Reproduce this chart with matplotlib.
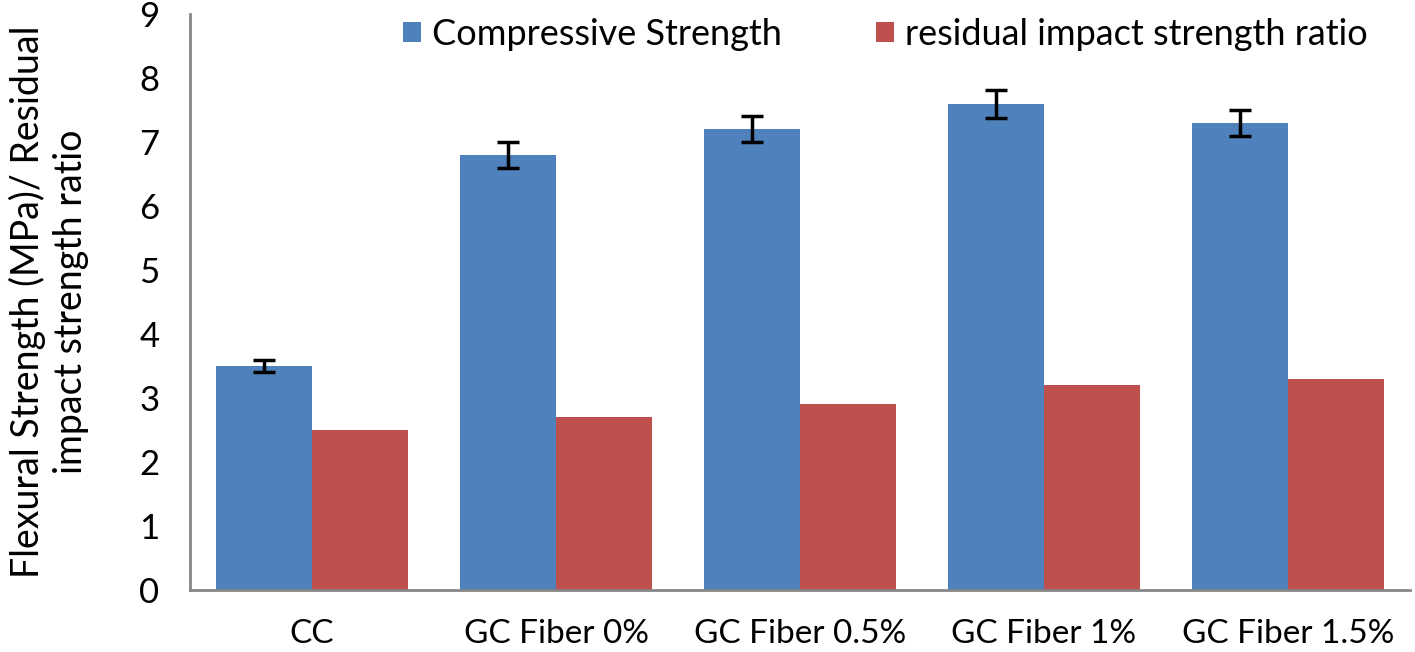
import matplotlib
matplotlib.use('agg')
import matplotlib.pyplot as plt
import numpy as np

# data
categories = ['CC', 'GC Fiber 0%', 'GC Fiber 0.5%', 'GC Fiber 1%', 'GC Fiber 1.5%']
compressive = [3.5, 6.8, 7.2, 7.6, 7.3]
compressive_err = [0.1, 0.2, 0.2, 0.22, 0.2]
residual = [2.5, 2.7, 2.9, 3.2, 3.3]
yticks = [0, 1, 2, 3, 4, 5, 6, 7, 8, 9]

plt.rcParams['font.family'] = ['Lato', 'DejaVu Sans']

fig = plt.figure(figsize=(14.15, 6.52), dpi=100)
ax = fig.add_axes([0.1343, 0.0951, 0.8622, 0.8834])

x = np.arange(len(categories))
w = 0.393
ax.bar(x - w / 2, compressive, w, color='#4f81bd', label='Compressive Strength',
       yerr=compressive_err, error_kw=dict(ecolor='black', elinewidth=2.5, capsize=8, capthick=2.5))
ax.bar(x + w / 2, residual, w, color='#c0504d', label='residual impact strength ratio')

ax.set_xlim(-0.5, len(categories) - 0.5)
ax.set_ylim(0, 9)
ax.set_yticks(yticks)
ax.set_xticks(x)
ax.set_xticklabels(categories)
ax.tick_params(axis='both', length=0)
ax.tick_params(axis='x', pad=21, labelsize=24)
ax.tick_params(axis='y', pad=22, labelsize=25)

for s in ['top', 'right']:
    ax.spines[s].set_visible(False)
for s in ['left', 'bottom']:
    ax.spines[s].set_color('#868686')
    ax.spines[s].set_linewidth(2)

ax.set_ylabel('Flexural Strength (MPa)/ Residual\nimpact strength ratio', fontsize=27,
              labelpad=36, linespacing=1.25)

ax.legend(loc='upper center', bbox_to_anchor=(0.57, 1.05), ncol=2, frameon=False,
          fontsize=26, handlelength=0.5, handleheight=0.5, columnspacing=2.6, handletextpad=0.3)

plt.savefig('out.png', dpi=100)
